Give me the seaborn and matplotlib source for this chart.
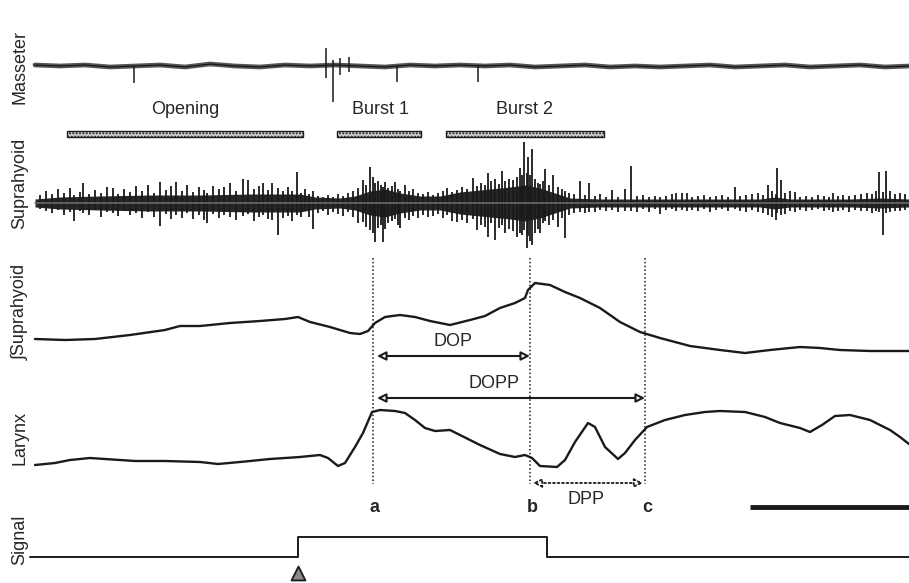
import numpy as np
import pandas as pd
import matplotlib
matplotlib.use("Agg")
import matplotlib.pyplot as plt
from matplotlib.patches import Rectangle
import seaborn as sns

#%% Data (time in 5 ms steps, amplitudes in arbitrary units above each baseline)

# masseter: slow wander + a few spikes
mas_t = [35, 60, 85, 110, 135, 160, 185, 210, 235, 260, 285, 310, 335, 360, 385, 410, 435, 460,
         485, 510, 535, 560, 585, 610, 635, 660, 685, 710, 735, 760, 785, 810, 835, 860, 885, 909]
mas_v = [1, 0, 1, -1, 0, 1, -1, 2, 0, -1, 1, 0, 1, 0, -1, 1, 0, 1,
         0, 1, -1, 0, 1, -1, 0, -1, 0, 1, -1, 0, 1, -1, 0, 1, -1, 0]
mas_spk_t = [134, 326, 333, 340, 349, 397, 478]
mas_spk_up = [0, 18, 6, 8, 9, 0, 0]
mas_spk_dn = [-17, -12, -36, -9, -6, -16, -16]

# suprahyoid EMG: dense core envelope + individual spikes
emg_env_t = [35, 60, 100, 150, 200, 250, 300, 315, 340, 355, 370, 385, 400, 420, 440, 460,
             490, 510, 525, 540, 555, 570, 600, 650, 700, 760, 775, 790, 850, 880, 909]
emg_env = [4, 6, 7, 8, 8, 9, 9, 6, 5, 7, 12, 14, 10, 7, 7, 11,
           14, 16, 18, 15, 10, 5, 4, 4, 4, 4, 6, 4, 4, 5, 4]
emg_t = [40, 46, 52, 58, 64, 70, 74, 80, 83, 89, 95, 101, 107, 113, 118, 124, 130, 136, 142, 148,
         154, 160, 166, 171, 176, 182, 187, 193, 199, 204, 207, 213, 219, 224, 230, 236, 243, 248, 254, 259,
         263, 268, 272, 278, 283, 288, 292, 297, 301, 305, 309, 313, 318, 323, 328, 333, 338, 343, 348, 353,
         358, 363, 366, 370, 373, 375, 378, 381, 383, 385, 388, 392, 395, 398, 400, 405, 409, 413, 418, 423,
         428, 433, 438, 443, 447, 452, 457, 462, 467, 473, 477, 481, 485, 488, 491, 495, 499, 502, 505, 509,
         513, 517, 520, 522, 524, 527, 528, 530, 532, 535, 538, 540, 543, 545, 549, 553, 558, 562, 565, 569,
         574, 580, 585, 589, 595, 600, 606, 612, 618, 625, 631, 637, 643, 649, 655, 660, 666, 672, 676, 682,
         687, 692, 698, 704, 710, 716, 722, 728, 735, 740, 746, 752, 758, 763, 768, 772, 776, 777, 781, 785,
         790, 795, 800, 806, 812, 818, 824, 829, 833, 838, 843, 849, 855, 861, 867, 872, 876, 879, 883, 886,
         890, 895, 900, 905]
emg_up = [8, 12, 9, 14, 10, 15, 8, 11, 20, 9, 13, 10, 16, 15, 9, 14, 11, 17, 12, 18,
          10, 21, 13, 17, 21, 12, 18, 11, 16, 13, 10, 17, 14, 16, 20, 12, 24, 23, 14, 17,
          20, 13, 20, 15, 12, 16, 12, 31, 10, 14, 9, 12, 7, 6, 8, 6, 9, 7, 10, 12,
          15, 23, 18, 36, 26, 20, 22, 18, 16, 21, 15, 17, 21, 14, 12, 18, 12, 14, 10, 9,
          11, 8, 10, 12, 15, 11, 13, 16, 14, 25, 17, 20, 18, 30, 22, 24, 19, 32, 22, 24,
          23, 26, 35, 28, 61, 30, 46, 28, 54, 24, 20, 19, 22, 34, 18, 28, 16, 14, 12, 10,
          9, 22, 8, 20, 7, 9, 6, 13, 6, 14, 37, 7, 8, 6, 7, 6, 7, 9, 10, 10,
          10, 6, 7, 8, 6, 7, 8, 6, 16, 7, 8, 9, 10, 8, 18, 12, 9, 35, 23, 10,
          12, 11, 6, 7, 6, 8, 7, 6, 10, 7, 8, 7, 8, 9, 10, 9, 12, 31, 11, 32,
          12, 9, 10, 9]
emg_dn = [-6, -8, -10, -7, -12, -9, -18, -8, -10, -12, -7, -14, -9, -10, -13, -8, -12, -10, -15, -9,
          -14, -23, -11, -16, -12, -15, -10, -16, -12, -17, -20, -11, -15, -12, -14, -17, -13, -11, -18, -14,
          -12, -16, -17, -32, -15, -13, -18, -12, -14, -8, -14, -26, -10, -8, -12, -9, -11, -13, -9, -14,
          -20, -19, -24, -27, -30, -39, -25, -22, -39, -26, -20, -18, -16, -22, -25, -15, -17, -13, -15, -12,
          -14, -13, -11, -15, -12, -18, -19, -17, -20, -16, -27, -22, -24, -34, -20, -37, -25, -22, -30, -26,
          -28, -34, -30, -32, -27, -45, -33, -38, -42, -30, -26, -30, -20, -18, -22, -17, -24, -15, -35, -12,
          -10, -9, -10, -9, -9, -7, -8, -7, -9, -8, -8, -9, -6, -9, -6, -11, -7, -6, -8, -7,
          -8, -7, -8, -6, -9, -7, -6, -8, -6, -8, -9, -7, -9, -10, -12, -14, -17, -10, -12, -11,
          -8, -9, -7, -8, -7, -6, -8, -7, -9, -8, -7, -9, -7, -8, -8, -10, -8, -9, -32, -10,
          -9, -8, -8, -7]

# integrated suprahyoid
int_t = [35, 65, 95, 130, 165, 180, 200, 230, 260, 285, 298, 310, 330, 350, 360, 368, 375, 385,
         400, 415, 430, 450, 470, 485, 500, 515, 525, 528, 535, 550, 565, 580, 600, 620, 640, 660,
         690, 720, 745, 770, 800, 820, 840, 870, 909]
int_v = [1, 0, 1, 5, 10, 14, 14, 17, 19, 21, 23, 18, 13, 7, 6, 9, 17, 23,
         25, 23, 19, 15, 20, 24, 32, 37, 42, 50, 57, 55, 48, 42, 32, 18, 8, 2,
         -6, -10, -13, -10, -7, -8, -10, -11, -11]

# larynx
lar_t = [35, 55, 70, 90, 105, 135, 165, 200, 218, 240, 270, 300, 320, 328, 338, 345, 355, 363,
         372, 380, 395, 405, 415, 425, 435, 450, 460, 480, 500, 515, 525, 532, 540, 557, 565, 575,
         588, 595, 605, 618, 625, 635, 647, 665, 685, 705, 720, 745, 765, 780, 800, 810, 822, 835,
         850, 870, 890, 900, 909]
lar_v = [0, 2, 5, 7, 6, 4, 4, 3, 1, 3, 6, 8, 10, 7, -1, 2, 18, 32,
         53, 55, 54, 52, 45, 37, 34, 35, 30, 20, 11, 8, 10, 7, -1, -2, 5, 23,
         42, 38, 18, 6, 12, 25, 38, 45, 50, 53, 54, 53, 48, 42, 37, 33, 40, 49,
         50, 45, 35, 28, 21]

# stimulus signal
sig_t = [30, 298, 298, 547, 547, 909]
sig_v = [0, 0, 1, 1, 0, 0]

# phases and landmarks
phase_names = ["Opening", "Burst 1", "Burst 2"]
phase_start = [67, 337, 446]
phase_end = [303, 421, 604]
mark_names = ["a", "b", "c"]
mark_t = [373, 530, 645]
scale_bar = [750, 909]

#%% Layout (figure rows)

BASE_MAS, BASE_EMG, BASE_INT, BASE_LAR, BASE_SIG = 66, 203, 340, 465, 557
SIG_H = 20

sns.set_theme(style="white")
plt.rcParams['font.family'] = ['Liberation Sans', 'DejaVu Sans']

fig = plt.figure(figsize=(9.09, 5.83), dpi=100)
ax = fig.add_axes([0, 0, 1, 1])
ax.set_xlim(0, 909)
ax.set_ylim(583, 0)
ax.axis('off')

# masseter
df_mas = pd.DataFrame({'t': mas_t, 'y': BASE_MAS - np.array(mas_v)})
sns.lineplot(data=df_mas, x='t', y='y', ax=ax, color='#555555', lw=3.4, estimator=None, sort=False)
sns.lineplot(data=df_mas, x='t', y='y', ax=ax, color='#111111', lw=0.8, estimator=None, sort=False)
ax.vlines(mas_spk_t, BASE_MAS - np.array(mas_spk_up), BASE_MAS - np.array(mas_spk_dn), color='k', lw=1.1)

# suprahyoid EMG
env = np.array(emg_env)
ax.fill_between(emg_env_t, BASE_EMG - env, BASE_EMG + env, color='#262626', lw=0)
ax.vlines(emg_t, BASE_EMG - np.array(emg_up), BASE_EMG - np.array(emg_dn), color='k', lw=1.3)
ax.plot([35, 909], [BASE_EMG, BASE_EMG], color='#6a6a6a', lw=1.2)

# integrated suprahyoid and larynx
df_int = pd.DataFrame({'t': int_t, 'y': BASE_INT - np.array(int_v)})
sns.lineplot(data=df_int, x='t', y='y', ax=ax, color='k', lw=1.7, estimator=None, sort=False)
df_lar = pd.DataFrame({'t': lar_t, 'y': BASE_LAR - np.array(lar_v)})
sns.lineplot(data=df_lar, x='t', y='y', ax=ax, color='k', lw=1.7, estimator=None, sort=False)

# signal
df_sig = pd.DataFrame({'t': sig_t, 'y': BASE_SIG - SIG_H * np.array(sig_v)})
sns.lineplot(data=df_sig, x='t', y='y', ax=ax, color='k', lw=1.4, estimator=None, sort=False)
ax.scatter([sig_t[1]], [573], marker='^', s=100, facecolor='#8a8a8a', edgecolor='k', lw=1.3,
           zorder=5, clip_on=False)

# phase boxes
for name, s, e in zip(phase_names, phase_start, phase_end):
    ax.add_patch(Rectangle((s, 131), e - s, 6, facecolor='#d6d6d6', edgecolor='k', lw=1.0, hatch='.....'))
    ax.text((s + e) / 2 if name != "Burst 1" else 380, 110, name, ha='center', va='center', fontsize=13)

# landmark lines
for name, t in zip(mark_names, mark_t):
    ax.plot([t, t], [258, 484], color='k', lw=1.1, ls=(0, (1, 1.5)))
    ax.text(t + 2, 507, name, ha='center', va='center', fontsize=13, fontweight='bold')

arrow = dict(arrowstyle='<|-|>', color='k', fc='w', lw=1.5, mutation_scale=13, shrinkA=0, shrinkB=0)
ax.annotate('', xy=(mark_t[1], 356), xytext=(mark_t[0] + 4, 356), arrowprops=arrow)
ax.annotate('', xy=(mark_t[2], 398), xytext=(mark_t[0] + 4, 398), arrowprops=arrow)
dotted = dict(arrow, ls=(0, (1, 1.5)), lw=1.3)
ax.annotate('', xy=(mark_t[2] - 2, 483), xytext=(mark_t[1] + 3, 483), arrowprops=dotted)
ax.text(453, 341, "DOP", ha='center', va='center', fontsize=13)
ax.text(494, 384, "DOPP", ha='center', va='center', fontsize=13)
ax.text(586, 500, "DPP", ha='center', va='center', fontsize=13)

# time scale bar
ax.plot(scale_bar, [507, 507], color='k', lw=3.5, solid_capstyle='butt')

# channel labels
for lab, y in [("Masseter", 67), ("Suprahyoid", 183), ("∫Suprahyoid", 312), ("Larynx", 438), ("Signal", 540)]:
    ax.text(20, y, lab, rotation=90, ha='center', va='center', fontsize=13)

fig.savefig("out.png", dpi=100)
